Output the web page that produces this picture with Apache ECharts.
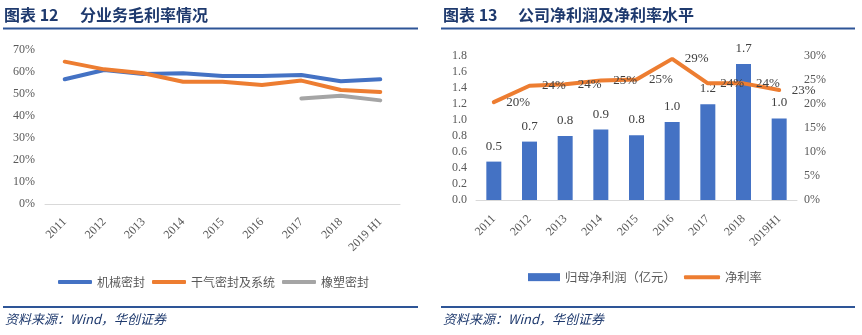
<!DOCTYPE html>
<html>
<head>
<meta charset="utf-8">
<script src="https://cdn.jsdelivr.net/npm/echarts@6/dist/echarts.min.js"></script>
<style>
html,body{margin:0;padding:0;background:#fff;}
#c{width:862px;height:335px;}
</style>
</head>
<body>
<div id="c"></div>
<script>
// ---- data ----
var leftCategories = ['2011','2012','2013','2014','2015','2016','2017','2018','2019 H1'];
var mechSeal = [56.7, 60.9, 59.1, 59.4, 58.2, 58.2, 58.6, 55.8, 56.7];
var dryGasSeal = [64.7, 61.2, 59.4, 55.6, 55.6, 54.1, 56.1, 51.8, 50.9];
var rubberSeal = [null, null, null, null, null, null, 48.0, 49.2, 47.1];
var leftTicks = ['0%','10%','20%','30%','40%','50%','60%','70%'];

var rightCategories = ['2011','2012','2013','2014','2015','2016','2017','2018','2019H1'];
var netProfit = [0.48, 0.73, 0.80, 0.88, 0.81, 0.975, 1.196, 1.70, 1.02];
var netMargin = [20.4, 23.8, 24.1, 24.9, 25.1, 29.4, 24.3, 24.3, 22.9];

var SERIF = '"Liberation Serif","DejaVu Serif",serif';
var CJK = '"Noto Sans CJK SC","Noto Sans",sans-serif';
var navy = '#1F3A6E';
var lineBlue = '#2E5597';
var tickColor = '#595959';

var chart = echarts.init(document.getElementById('c'), null, {renderer:'canvas'});

function axisLabelStyle(extra){
  var o = {color: tickColor, fontFamily: SERIF, fontSize: 12};
  for (var k in extra) o[k] = extra[k];
  return o;
}

var option = {
  backgroundColor: '#fff',
  animation: false,
  graphic: [
    {type:'text', left: 4, top: 7, style:{text:'图表 12', font:'bold 16px ' + CJK, fill: navy}},
    {type:'text', left: 80, top: 7, style:{text:'分业务毛利率情况', font:'bold 16px ' + CJK, fill: navy}},
    {type:'line', shape:{x1:3, y1:28.5, x2:418, y2:28.5}, style:{stroke: lineBlue, lineWidth: 2}},
    {type:'text', left: 443, top: 7, style:{text:'图表 13', font:'bold 16px ' + CJK, fill: navy}},
    {type:'text', left: 518, top: 7, style:{text:'公司净利润及净利率水平', font:'bold 16px ' + CJK, fill: navy}},
    {type:'line', shape:{x1:441, y1:28.5, x2:855, y2:28.5}, style:{stroke: lineBlue, lineWidth: 2}},
    {type:'line', shape:{x1:3, y1:307, x2:418, y2:307}, style:{stroke: lineBlue, lineWidth: 2}},
    {type:'line', shape:{x1:441, y1:307, x2:855, y2:307}, style:{stroke: lineBlue, lineWidth: 2}},
    {type:'text', left: 5, top: 313, style:{text:'资料来源：Wind，华创证券', font:'italic 13px ' + CJK, fill: navy}},
    {type:'text', left: 443, top: 313, style:{text:'资料来源：Wind，华创证券', font:'italic 13px ' + CJK, fill: navy}}
  ],
  legend: [
    {
      left: 53, top: 271, itemWidth: 34, itemHeight: 4, itemGap: 7, icon: 'roundRect',
      textStyle: {color: tickColor, fontFamily: CJK, fontSize: 12},
      data: ['机械密封','干气密封及系统','橡塑密封']
    },
    {
      left: 523, top: 266, itemWidth: 32, itemHeight: 8, icon: 'rect',
      textStyle: {color: tickColor, fontFamily: CJK, fontSize: 12.3},
      data: ['归母净利润（亿元）']
    },
    {
      left: 679, top: 266, itemWidth: 36, itemHeight: 4, icon: 'roundRect',
      textStyle: {color: tickColor, fontFamily: CJK, fontSize: 12.3},
      data: ['净利率']
    }
  ],
  grid: [
    {left: 45, right: 462, top: 50, bottom: 131},
    {left: 476, right: 65, top: 56, bottom: 135}
  ],
  xAxis: [
    {
      gridIndex: 0, type: 'category', data: leftCategories, boundaryGap: true,
      axisLine: {lineStyle: {color: '#D9D9D9', width: 1}},
      axisTick: {show: false},
      axisLabel: axisLabelStyle({rotate: 45, margin: 16, interval: 0})
    },
    {
      gridIndex: 1, type: 'category', data: rightCategories, boundaryGap: true,
      axisLine: {lineStyle: {color: '#D9D9D9', width: 1}},
      axisTick: {show: false},
      axisLabel: axisLabelStyle({rotate: 45, margin: 17, interval: 0})
    }
  ],
  yAxis: [
    {
      gridIndex: 0, type: 'value', min: 0, max: 70, interval: 10,
      axisLine: {show: false}, axisTick: {show: false}, splitLine: {show: false},
      axisLabel: axisLabelStyle({margin: 10, formatter: function(v){ return leftTicks[Math.round(v/10)]; }})
    },
    {
      gridIndex: 1, type: 'value', min: 0, max: 1.8, interval: 0.2,
      axisLine: {show: false}, axisTick: {show: false}, splitLine: {show: false},
      axisLabel: axisLabelStyle({margin: 9, formatter: function(v){ return v.toFixed(1); }})
    },
    {
      gridIndex: 1, type: 'value', min: 0, max: 30, interval: 5, position: 'right',
      axisLine: {show: false}, axisTick: {show: false}, splitLine: {show: false},
      axisLabel: axisLabelStyle({margin: 7, formatter: '{value}%'})
    }
  ],
  series: [
    {name:'机械密封', type:'line', xAxisIndex:0, yAxisIndex:0, data: mechSeal, symbol:'none',
     lineStyle:{color:'#4472C4', width:4, cap:'round'}, itemStyle:{color:'#4472C4'}},
    {name:'干气密封及系统', type:'line', xAxisIndex:0, yAxisIndex:0, data: dryGasSeal, symbol:'none',
     lineStyle:{color:'#ED7D31', width:4, cap:'round'}, itemStyle:{color:'#ED7D31'}},
    {name:'橡塑密封', type:'line', xAxisIndex:0, yAxisIndex:0, data: rubberSeal, symbol:'none',
     lineStyle:{color:'#A5A5A5', width:4, cap:'round'}, itemStyle:{color:'#A5A5A5'}},
    {name:'归母净利润（亿元）', type:'bar', xAxisIndex:1, yAxisIndex:1, data: netProfit, barWidth: 15,
     itemStyle:{color:'#4472C4'},
     label:{show:true, position:'top', distance: 9, color:'#404040', fontFamily: SERIF, fontSize: 13,
            formatter: function(p){ return p.value.toFixed(1); }}},
    {name:'净利率', type:'line', xAxisIndex:1, yAxisIndex:2, data: netMargin, symbol:'circle', symbolSize: 1,
     lineStyle:{color:'#ED7D31', width:4, cap:'round'}, itemStyle:{color:'#ED7D31'},
     label:{show:true, position:'right', distance: 12, color:'#404040', fontFamily: SERIF, fontSize: 13,
            formatter: function(p){ return Math.round(p.value) + '%'; }}}
  ]
};
chart.setOption(option);
</script>
</body>
</html>
